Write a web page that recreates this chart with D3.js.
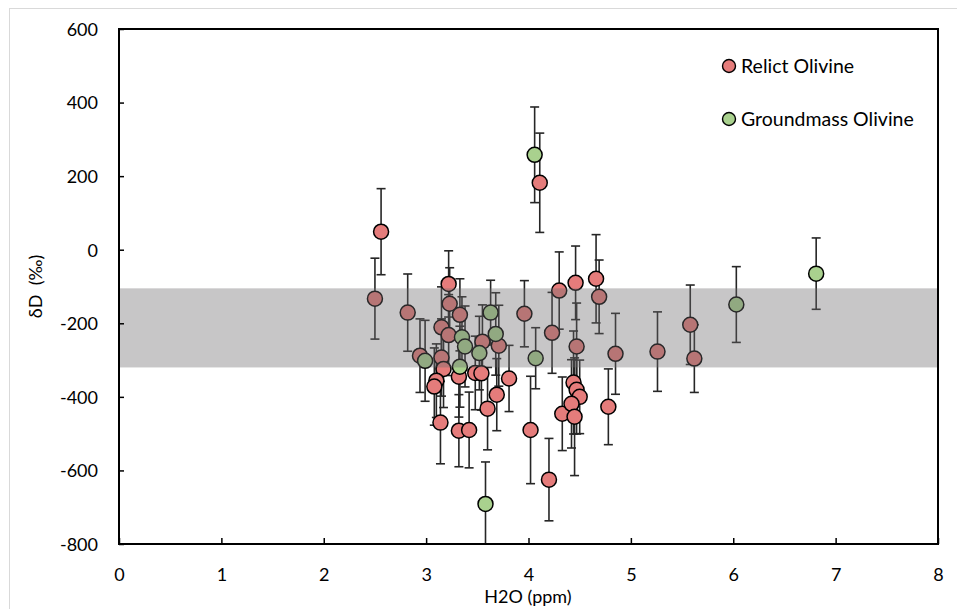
<!DOCTYPE html>
<html>
<head>
<meta charset="utf-8">
<script src="https://cdn.jsdelivr.net/npm/d3@7"></script>
<style>
  html, body { margin: 0; padding: 0; background: #fff; }
  svg { display: block; font-family: Lato, "Open Sans", sans-serif; }
</style>
</head>
<body>
<svg id="chart" width="957" height="609"></svg>
<script>
// ---- data ----
const xTicks = [0, 1, 2, 3, 4, 5, 6, 7, 8];
const yTicks = [-800, -600, -400, -200, 0, 200, 400, 600];
const bandRange = [-320, -105];

// Relict Olivine: H2O (ppm), δD (‰), ±error
const relictX = [2.50, 2.56, 2.82, 3.22, 3.23, 3.33, 3.96, 3.15, 3.22, 3.55, 3.71, 2.94, 3.15, 3.17, 3.32,
                 3.48, 3.54, 3.81, 3.10, 3.08, 3.69, 3.60, 3.14, 3.32, 3.42, 4.02, 4.11, 4.30, 4.46, 4.66,
                 4.69, 4.23, 4.47, 4.85, 5.26, 5.58, 5.62, 4.20, 4.33, 4.78, 4.44, 4.47, 4.50, 4.42, 4.45];
const relictY = [-133, 49, -171, -93, -147, -177, -174, -211, -232, -250, -261, -288, -293, -324, -345,
                 -335, -336, -350, -356, -372, -394, -432, -470, -492, -490, -490, 182, -111, -90, -79,
                 -128, -226, -263, -283, -277, -204, -296, -625, -446, -427, -361, -381, -400, -419, -454];
const relictErr = [110, 117, 105, 90, 98, 98, 90, 110, 110, 100, 110, 100, 105, 105, 110,
                   100, 100, 90, 100, 105, 98, 112, 112, 98, 103, 146, 135, 105, 100, 120,
                   100, 110, 118, 110, 108, 108, 92, 112, 100, 103, 140, 120, 100, 120, 160];

// Groundmass Olivine
const groundX = [4.06, 3.63, 3.35, 3.38, 3.68, 3.52, 4.07, 2.99, 3.33, 3.58, 6.03, 6.81];
const groundY = [258, -171, -238, -263, -229, -281, -295, -302, -318, -691, -149, -65];
const groundErr = [130, 88, 110, 110, 112, 100, 83, 110, 110, 114, 103, 97];

const seriesNames = ["Relict Olivine", "Groundmass Olivine"];
const seriesColors = ["#e57c7b", "#a9d18e"];

// ---- layout ----
const svg = d3.select("#chart");
const L = 119, R = 938, T = 29, B = 544;
const x = d3.scaleLinear().domain([0, 8]).range([L, R]);
const y = d3.scaleLinear().domain([-800, 600]).range([B, T]);

// outer chart border
svg.append("rect").attr("x", 9.5).attr("y", 8.5).attr("width", 980).attr("height", 640)
  .attr("fill", "none").attr("stroke", "#d9d9d9").attr("stroke-width", 1);

svg.append("defs").append("clipPath").attr("id", "plotclip")
  .append("rect").attr("x", L).attr("y", T).attr("width", R - L).attr("height", B - T);

const plot = svg.append("g").attr("clip-path", "url(#plotclip)");

const relict = relictX.map((v, i) => ({x: v, y: relictY[i], e: relictErr[i], s: 0}));
const ground = groundX.map((v, i) => ({x: v, y: groundY[i], e: groundErr[i], s: 1}));
const all = relict.concat(ground);

// error bars
const eb = plot.append("g").attr("stroke", "#262626").attr("stroke-width", 1.6).attr("fill", "none");
all.forEach(d => {
  const cx = x(d.x), y1 = y(d.y + d.e), y2 = y(d.y - d.e);
  eb.append("line").attr("x1", cx).attr("x2", cx).attr("y1", y1).attr("y2", y2);
  eb.append("line").attr("x1", cx - 4.5).attr("x2", cx + 4.5).attr("y1", y1).attr("y2", y1);
  eb.append("line").attr("x1", cx - 4.5).attr("x2", cx + 4.5).attr("y1", y2).attr("y2", y2);
});

// markers
[relict, ground].forEach((arr, si) => {
  plot.append("g").selectAll("circle").data(arr).join("circle")
    .attr("cx", d => x(d.x)).attr("cy", d => y(d.y)).attr("r", 7.5)
    .attr("fill", seriesColors[si]).attr("stroke", "#000").attr("stroke-width", 1.5);
});

// translucent grey band on top
plot.append("rect")
  .attr("x", L).attr("width", R - L)
  .attr("y", y(bandRange[1])).attr("height", y(bandRange[0]) - y(bandRange[1]))
  .attr("fill", "#6c686c").attr("fill-opacity", 0.38);

// axes (ticks inside)
const fmt = d => String(d);
const xAxis = d3.axisBottom(x).tickValues(xTicks).tickSize(-6).tickPadding(24).tickFormat(fmt);
const yAxis = d3.axisLeft(y).tickValues(yTicks).tickSize(-5).tickPadding(21).tickFormat(fmt);

const gx = svg.append("g").attr("transform", `translate(0,${B})`).call(xAxis);
const gy = svg.append("g").attr("transform", `translate(${L},0)`).call(yAxis);
[gx, gy].forEach(g => {
  g.select(".domain").remove();
  g.selectAll(".tick line").attr("stroke", "#000").attr("stroke-width", 1.5);
  g.selectAll(".tick text").attr("fill", "#000").style("font-size", "18px").style("font-family", "Lato, sans-serif");
});
gy.selectAll(".tick text").attr("dy", "0.35em");

// frame
svg.append("rect").attr("x", L).attr("y", T).attr("width", R - L).attr("height", B - T)
  .attr("fill", "none").attr("stroke", "#000").attr("stroke-width", 2);

// axis titles
svg.append("text").attr("x", 528).attr("y", 603).attr("text-anchor", "middle")
  .style("font-size", "18px").attr("fill", "#000").text("H2O (ppm)");
svg.append("text").attr("transform", `translate(42,${(T + B) / 2}) rotate(-90)`)
  .attr("text-anchor", "middle").style("font-size", "18px").style("white-space", "pre")
  .attr("fill", "#000").text("δD  (‰)");

// legend
const legend = svg.append("g");
seriesNames.forEach((name, i) => {
  const ly = 66 + i * 53;
  legend.append("circle").attr("cx", 729).attr("cy", ly).attr("r", 6.5)
    .attr("fill", seriesColors[i]).attr("stroke", "#000").attr("stroke-width", 1.4);
  legend.append("text").attr("x", 741).attr("y", ly).attr("dy", "0.35em")
    .style("font-size", "19.5px").attr("fill", "#000").text(name);
});
</script>
</body>
</html>
